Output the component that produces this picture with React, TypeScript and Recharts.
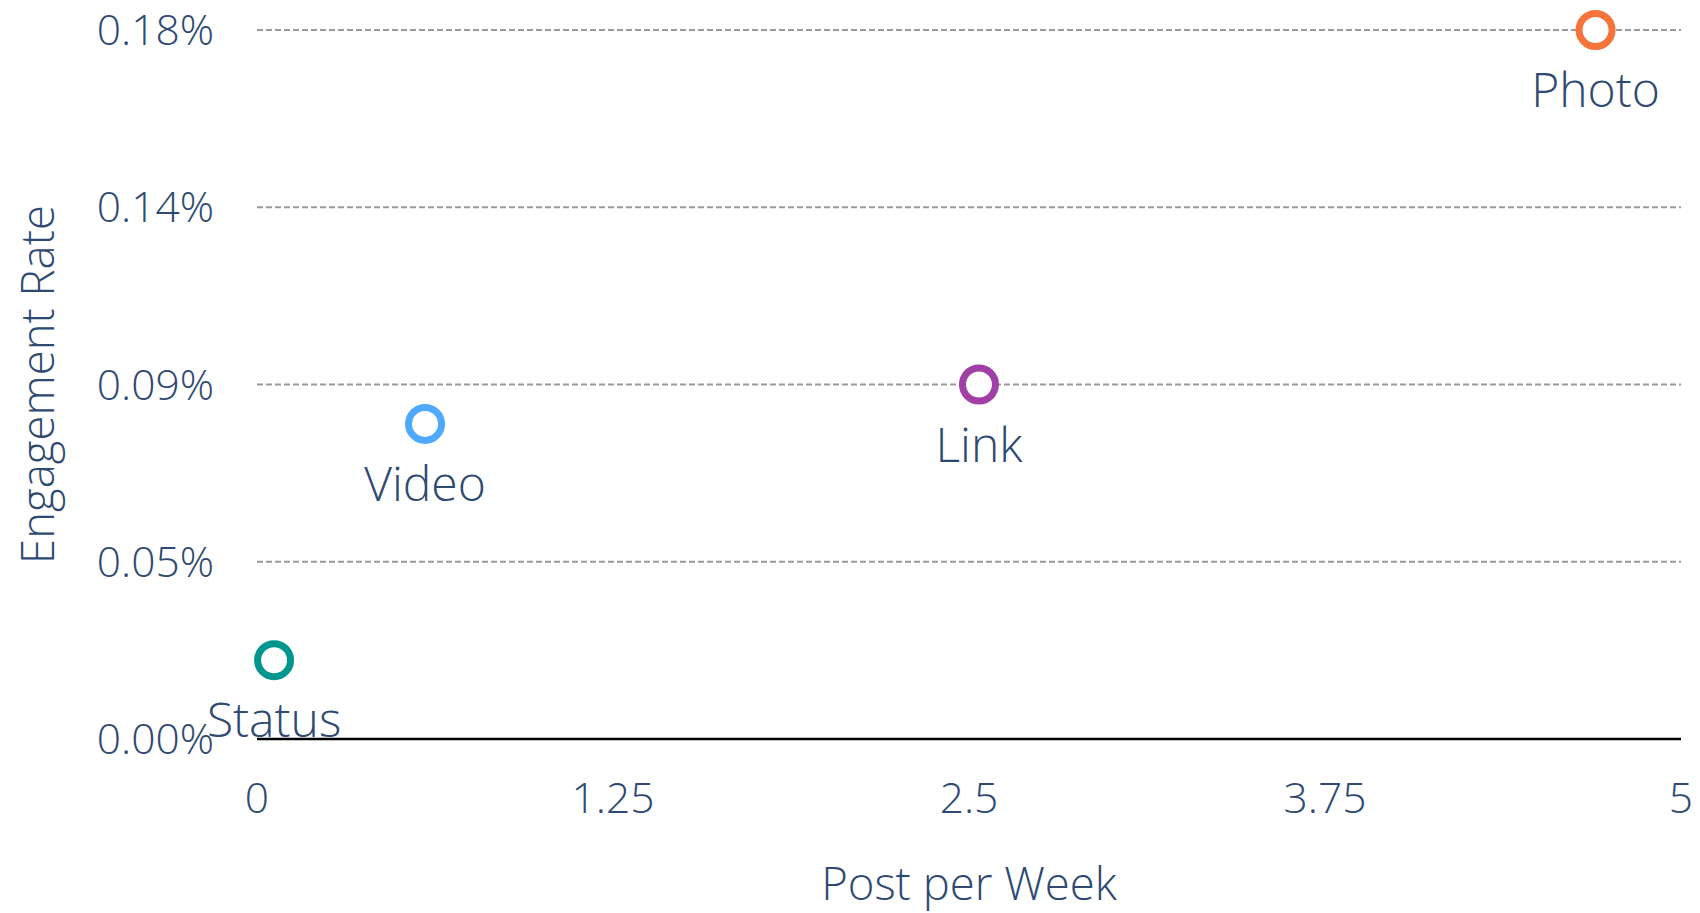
import { ScatterChart, Scatter, XAxis, YAxis, CartesianGrid, LabelList, Label } from "recharts"

const categories = ["Status", "Video", "Link", "Photo"]
const postsPerWeek = [0.06, 0.59, 2.535, 4.7]
const engagementRates = [0.02, 0.08, 0.09, 0.18]
const pointColors = ["#00968f", "#4faaff", "#a23fa5", "#f4743b"]

const xTicks = [0, 1.25, 2.5, 3.75, 5]
const yTicks = [0, 0.045, 0.09, 0.135, 0.18]
const yTickLabels = ["0.00%", "0.05%", "0.09%", "0.14%", "0.18%"]

const TEXT = "#2e4a72"
const FONT = "'Open Sans', sans-serif"
const TICK_FS = 42.5
const TITLE_FS = 45.5
const POINT_FS = 48

const data = categories.map((name, i) => ({
  name,
  x: postsPerWeek[i],
  y: engagementRates[i],
  color: pointColors[i],
}))

const RingShape = (props: any) => {
  const { cx, cy, payload } = props
  return <circle cx={cx} cy={cy} r={16.5} fill="#ffffff" stroke={payload.color} strokeWidth={7} />
}

// name under each ring
const PointLabel = (props: any) => {
  const { x, y, width, height, value } = props
  return (
    <text
      x={x + width / 2}
      y={y + height / 2 + 77}
      textAnchor="middle"
      fill={TEXT}
      fontSize={POINT_FS}
      fontWeight={300}
      fontFamily={FONT}
    >
      {value}
    </text>
  )
}

const YTitle = (props: any) => {
  const { viewBox } = props
  const cy = viewBox.y + viewBox.height / 2
  return (
    <text
      x={54}
      y={cy}
      transform={`rotate(-90, 54, ${cy})`}
      textAnchor="middle"
      fill={TEXT}
      fontSize={TITLE_FS}
      fontWeight={300}
      fontFamily={FONT}
    >
      Engagement Rate
    </text>
  )
}

export default function App() {
  return (
    <div style={{ position: "absolute", left: 0, top: 0, background: "#ffffff" }}>
      <ScatterChart width={1700} height={913} margin={{ top: 30, right: 19, bottom: 0, left: 0 }} style={{ fontFamily: FONT }}>
        <CartesianGrid vertical={false} stroke="#9a9a9a" strokeWidth={2} strokeDasharray="6 3" />
        <XAxis
          type="number"
          dataKey="x"
          domain={[0, 5]}
          ticks={xTicks}
          height={174}
          tickSize={0}
          tickMargin={44}
          axisLine={{ stroke: "#000000", strokeWidth: 2.5 }}
          tick={{ fill: TEXT, fontSize: TICK_FS, fontWeight: 300, fontFamily: FONT }}
          interval={0}
        >
          <Label
            value="Post per Week"
            position="insideBottom"
            offset={13}
            fill={TEXT}
            fontSize={TITLE_FS}
            fontWeight={300}
            fontFamily={FONT}
          />
        </XAxis>
        <YAxis
          type="number"
          dataKey="y"
          domain={[0, 0.18]}
          ticks={yTicks}
          width={257}
          tickSize={0}
          tickMargin={43}
          axisLine={false}
          interval={0}
          tickFormatter={(v: number) => yTickLabels[yTicks.indexOf(v)]}
          tick={{ fill: TEXT, fontSize: TICK_FS, fontWeight: 300, fontFamily: FONT }}
        >
          <Label content={YTitle} />
        </YAxis>
        <Scatter data={data} shape={RingShape} isAnimationActive={false}>
          <LabelList dataKey="name" content={PointLabel} />
        </Scatter>
      </ScatterChart>
    </div>
  )
}
